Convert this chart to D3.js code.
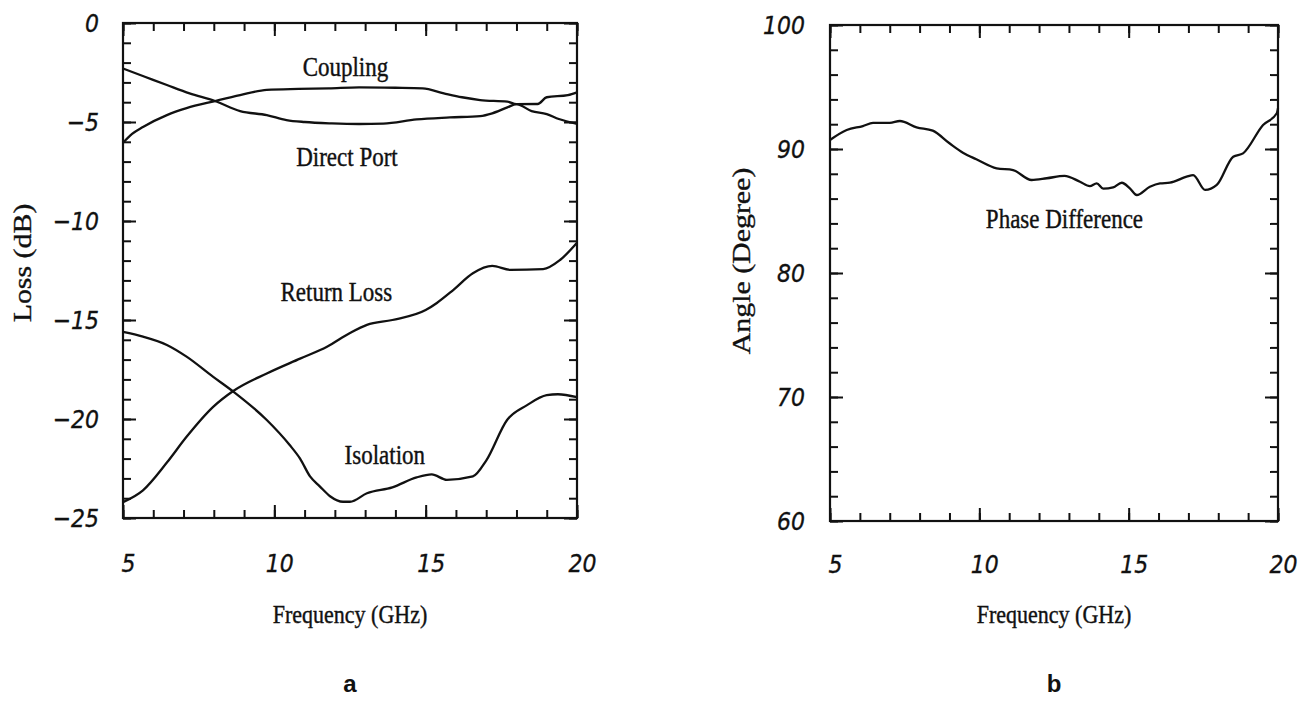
<!DOCTYPE html>
<html>
<head>
<meta charset="utf-8">
<script src="https://cdn.jsdelivr.net/npm/d3@7"></script>
<style>
  body { margin: 0; background: #fff; }
  .frame { fill: none; stroke: #111; stroke-width: 2.2; }
  .curve { fill: none; stroke: #111; stroke-width: 2.3; stroke-linejoin: round; }
  .axis .domain { display: none; }
  .axis .tick line { stroke: #111; stroke-width: 2; }
  .axis text { font-family: "DejaVu Sans"; font-style: italic; font-size: 22px; fill: #111; stroke: #111; stroke-width: 0.3; }
  .serif { font-family: "Liberation Serif"; fill: #111; stroke: #111; stroke-width: 0.35; }
  .tag { font-family: "Liberation Sans"; font-weight: bold; font-size: 24px; fill: #111; }
</style>
</head>
<body>
<svg id="chart" width="1311" height="702"></svg>
<script>
// ---- data ----
const xMajor = [5, 10, 15, 20];
const xMinor = d3.range(5, 21, 1);
const lossMajor = [0, -5, -10, -15, -20, -25];
const lossMinor = d3.range(-25, 1, 1);
const angleMajor = [60, 70, 80, 90, 100];
const angleMinor = d3.range(60, 101, 2);

const couplingFreq = [5, 5.3, 5.66, 6.45, 7.1, 8.04, 8.87, 9.75, 10.8, 11.8, 12.8, 14.0, 14.9, 15.6, 16.2, 16.8, 17.7, 18.0, 18.7, 19.0, 19.7, 20];
const couplingDb = [-6.05, -5.6, -5.25, -4.65, -4.3, -3.94, -3.64, -3.38, -3.33, -3.3, -3.25, -3.27, -3.3, -3.55, -3.75, -3.89, -3.97, -4.1, -4.09, -3.75, -3.64, -3.5];

const directFreq = [5, 5.7, 6.45, 7.2, 8.04, 8.87, 9.75, 10.4, 11.0, 11.9, 12.8, 13.6, 14.7, 15.8, 16.8, 17.2, 17.7, 18.0, 18.5, 19.0, 19.4, 20];
const directDb = [-2.3, -2.7, -3.13, -3.55, -3.94, -4.45, -4.65, -4.9, -5.0, -5.07, -5.1, -5.08, -4.87, -4.77, -4.7, -4.56, -4.26, -4.1, -4.45, -4.6, -4.85, -5.1];

const returnFreq = [5, 5.66, 6.45, 7.1, 7.97, 8.63, 9.75, 10.85, 11.74, 12.5, 13.06, 13.9, 15.0, 15.37, 15.9, 16.56, 17.2, 17.8, 18.88, 19.44, 20];
const returnDb = [-24.2, -23.6, -22.2, -20.9, -19.4, -18.6, -17.7, -16.95, -16.35, -15.66, -15.25, -15.0, -14.5, -14.14, -13.5, -12.64, -12.27, -12.47, -12.43, -11.97, -11.1];

const isolationFreq = [5, 5.66, 6.45, 7.1, 7.97, 8.63, 9.75, 10.5, 10.85, 11.18, 11.5, 11.84, 12.27, 12.5, 13.06, 13.9, 14.7, 15.2, 15.7, 16.56, 17.0, 17.69, 18.35, 19.0, 19.37, 20];
const isolationDb = [-15.6, -15.84, -16.26, -16.85, -17.86, -18.6, -20.05, -21.3, -22.0, -22.9, -23.4, -23.9, -24.18, -24.18, -23.75, -23.45, -22.95, -22.8, -23.07, -22.9, -22.1, -20.05, -19.3, -18.8, -18.75, -18.9];

const phaseFreq = [5, 5.56, 6.1, 6.44, 7.0, 7.34, 7.9, 8.44, 9.0, 9.45, 9.9, 10.58, 11.13, 11.75, 12.26, 12.85, 13.37, 13.7, 13.93, 14.15, 14.48, 14.77, 15.04, 15.27, 15.71, 16.05, 16.38, 16.94, 17.16, 17.56, 17.95, 18.5, 18.83, 19.5, 19.96, 20];
const phaseDeg = [90.73, 91.53, 91.85, 92.1, 92.1, 92.26, 91.75, 91.48, 90.46, 89.7, 89.17, 88.44, 88.3, 87.5, 87.64, 87.83, 87.36, 87.0, 87.23, 86.8, 86.9, 87.28, 86.83, 86.29, 86.96, 87.23, 87.28, 87.77, 87.9, 86.7, 87.1, 89.38, 89.65, 91.94, 92.88, 93.3];

// curve names and where they are written (data units)
const lossNames = ['Coupling', 'Direct Port', 'Return Loss', 'Isolation'];
const lossNameFreq = [12.35, 12.4, 12.05, 13.65];
const lossNameDb = [-2.2, -6.75, -13.6, -21.8];
const phaseNames = ['Phase Difference'];
const phaseNameFreq = [12.85];
const phaseNameDeg = [84.4];

const svg = d3.select('#chart');
const STRETCH = 1.15;   // the scanned lettering is taller than it is wide

// Draw one framed panel with mirrored inward ticks
function drawPanel(cfg) {
  const g = svg.append('g').attr('transform', `translate(${cfg.left},${cfg.top})`);
  const x = d3.scaleLinear().domain([5, 20]).range([0, cfg.width]);
  const y = d3.scaleLinear().domain(cfg.yDomain).range([cfg.height, 0]);

  // minor ticks on all four sides
  g.append('g').attr('class', 'axis').attr('transform', `translate(0,${cfg.height})`)
    .call(d3.axisBottom(x).tickValues(xMinor).tickSize(-8).tickFormat(''));
  g.append('g').attr('class', 'axis')
    .call(d3.axisTop(x).tickValues(xMinor).tickSize(-8).tickFormat(''));
  g.append('g').attr('class', 'axis')
    .call(d3.axisLeft(y).tickValues(cfg.yMinor).tickSize(-8).tickFormat(''));
  g.append('g').attr('class', 'axis').attr('transform', `translate(${cfg.width},0)`)
    .call(d3.axisRight(y).tickValues(cfg.yMinor).tickSize(-8).tickFormat(''));

  // major ticks, labelled on bottom and left
  const xAxis = g.append('g').attr('class', 'axis').attr('transform', `translate(0,${cfg.height})`)
    .call(d3.axisBottom(x).tickValues(xMajor).tickSize(-13).tickPadding(cfg.xPad));
  xAxis.selectAll('text')
    .attr('dx', 5)
    .attr('transform', `translate(0,${cfg.xPad}) scale(1,${STRETCH}) translate(0,${-cfg.xPad})`);
  g.append('g').attr('class', 'axis')
    .call(d3.axisTop(x).tickValues(xMajor).tickSize(-13).tickFormat(''));
  const yAxis = g.append('g').attr('class', 'axis')
    .call(d3.axisLeft(y).tickValues(cfg.yMajor).tickSize(-13).tickPadding(cfg.yPad)
      .tickFormat(d => d < 0 ? '\u2212' + Math.abs(d) : d));
  yAxis.selectAll('text').attr('transform', `scale(1,${STRETCH})`);
  g.append('g').attr('class', 'axis').attr('transform', `translate(${cfg.width},0)`)
    .call(d3.axisRight(y).tickValues(cfg.yMajor).tickSize(-13).tickFormat(''));

  g.append('rect').attr('class', 'frame')
    .attr('width', cfg.width).attr('height', cfg.height);

  const line = d3.line().x(d => x(d[0])).y(d => y(d[1])).curve(d3.curveMonotoneX);
  g.selectAll('.curve')
    .data(cfg.series)
    .join('path')
      .attr('class', 'curve')
      .attr('d', s => line(d3.zip(s.freq, s.vals)));

  // curve names
  cfg.names.forEach((name, i) => {
    g.append('g')
      .attr('transform', `translate(${x(cfg.nameFreq[i])},${y(cfg.nameVal[i])}) scale(1,${STRETCH})`)
      .append('text').attr('class', 'serif')
      .attr('text-anchor', 'middle').attr('dominant-baseline', 'central')
      .style('font-size', '23px')
      .text(name);
  });

  // axis titles
  g.append('g')
    .attr('transform', `translate(${cfg.width / 2},${cfg.xTitleY - cfg.top}) scale(1,${STRETCH})`)
    .append('text').attr('class', 'serif')
    .attr('text-anchor', 'middle').attr('dominant-baseline', 'central')
    .style('font-size', '22px')
    .text('Frequency (GHz)');
  g.append('g')
    .attr('transform', `translate(${cfg.yTitleX - cfg.left},${cfg.yTitleY - cfg.top}) scale(1,${STRETCH})`)
    .append('text').attr('class', 'serif')
    .attr('transform', 'rotate(-90)')
    .attr('text-anchor', 'middle').attr('dominant-baseline', 'central')
    .style('font-size', '26px')
    .text(cfg.yTitle);

  g.append('text').attr('class', 'tag')
    .attr('x', cfg.width / 2).attr('y', cfg.tagY - cfg.top)
    .attr('text-anchor', 'middle').attr('dominant-baseline', 'central')
    .text(cfg.tag);
}

drawPanel({
  left: 123, top: 23, width: 454, height: 495,
  yDomain: [-25, 0], yMajor: lossMajor, yMinor: lossMinor,
  xPad: 36, yPad: 24,
  series: [
    {freq: couplingFreq, vals: couplingDb},
    {freq: directFreq, vals: directDb},
    {freq: returnFreq, vals: returnDb},
    {freq: isolationFreq, vals: isolationDb}
  ],
  names: lossNames, nameFreq: lossNameFreq, nameVal: lossNameDb,
  yTitle: 'Loss (dB)', yTitleX: 22, yTitleY: 263,
  xTitleY: 614, tag: 'a', tagY: 683
});

drawPanel({
  left: 830, top: 25, width: 448, height: 496,
  yDomain: [60, 100], yMajor: angleMajor, yMinor: angleMinor,
  xPad: 34, yPad: 25,
  series: [{freq: phaseFreq, vals: phaseDeg}],
  names: phaseNames, nameFreq: phaseNameFreq, nameVal: phaseNameDeg,
  yTitle: 'Angle (Degree)', yTitleX: 741, yTitleY: 261,
  xTitleY: 614, tag: 'b', tagY: 683
});
</script>
</body>
</html>
